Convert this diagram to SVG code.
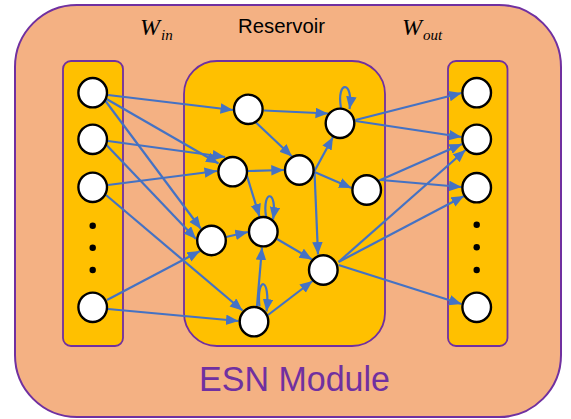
<svg xmlns="http://www.w3.org/2000/svg" width="571" height="419" viewBox="0 0 571 419">
  <style>
    .module { fill: #F4B183; stroke: #7030A0; stroke-width: 2; }
    .panel { fill: #FFC000; stroke: #7030A0; stroke-width: 1.8; }
    .node { fill: #FFFFFF; stroke: #000000; stroke-width: 2.4; }
    .dot { fill: #000000; }
    .edge { fill: none; stroke: #4472C4; stroke-width: 2.2; marker-end: url(#arrow); }
    .label { font-family: "Liberation Sans", Arial, sans-serif; fill: #000000; }
    .math { font-family: "Liberation Serif", "Times New Roman", serif; font-style: italic; font-weight: normal; fill: #000000; }
    .title { font-family: "Liberation Sans", Arial, sans-serif; fill: #7030A0; }
  </style>
  <defs>
    <marker id="arrow" markerUnits="userSpaceOnUse" markerWidth="14" markerHeight="12" refX="12.5" refY="5.25" orient="auto">
      <path d="M0,0 L12.5,5.25 L0,10.5 z" fill="#4472C4"/>
    </marker>
  </defs>

  <!-- module frame and layer panels -->
  <rect class="module" x="15" y="5" width="546" height="412" rx="62" ry="62"/>
  <rect class="panel" x="63" y="61" width="60" height="285" rx="8" ry="8"/>
  <rect class="panel" x="184" y="61" width="201" height="285" rx="33" ry="33"/>
  <rect class="panel" x="448" y="61" width="59.5" height="285" rx="8" ry="8"/>

  <!-- headings -->
  <text class="math" x="140" y="35" font-size="24">W</text>
  <text class="math" x="161" y="39.5" font-size="15">in</text>
  <text class="label" x="238" y="32.5" font-size="19.5" textLength="87" lengthAdjust="spacingAndGlyphs">Reservoir</text>
  <text class="math" x="402" y="35" font-size="24">W</text>
  <text class="math" x="423" y="39.5" font-size="15">out</text>
  <text class="title" x="199" y="391" font-size="35" textLength="191" lengthAdjust="spacingAndGlyphs">ESN Module</text>

  <!-- connections -->
  <g id="connectors">
    <!-- input weights -->
    <path class="edge" d="M108,95 L233,110"/>
    <path class="edge" d="M106.5,99 L218.5,163.5"/>
    <path class="edge" d="M105.5,101 L201,229"/>
    <path class="edge" d="M108,141 L225,157"/>
    <path class="edge" d="M106.5,145 L196,239"/>
    <path class="edge" d="M108,185 L217,171"/>
    <path class="edge" d="M106,195 L242.5,310.5"/>
    <path class="edge" d="M107,300 L200,251"/>
    <path class="edge" d="M108,309 L238.5,321"/>
    <!-- reservoir -->
    <path class="edge" d="M264,110.5 L328,113.5"/>
    <path class="edge" d="M256,122.5 L292,156.5"/>
    <path class="edge" d="M248,171 L283.8,170"/>
    <path class="edge" d="M247,176 L259.5,216.5"/>
    <path class="edge" d="M314.5,171 L333,137"/>
    <path class="edge" d="M314.5,172 L351.5,188"/>
    <path class="edge" d="M314.5,172 L318,254.5"/>
    <path class="edge" d="M226,237 L247.8,232"/>
    <path class="edge" d="M277,239 L312,259.5"/>
    <path class="edge" d="M257,306 L262,247.5"/>
    <path class="edge" d="M268,315 L312.5,281"/>
    <!-- self loops -->
    <path class="edge" d="M341,108 C336,80 354,80 349.5,109"/>
    <path class="edge" d="M266,216.5 C262,189 278,189 273,219.5"/>
    <path class="edge" d="M259.5,306.5 C256,276 271,276 266.5,311.5"/>
    <!-- output weights -->
    <path class="edge" d="M355.5,120 L461.5,93"/>
    <path class="edge" d="M355.5,121 L461.5,137"/>
    <path class="edge" d="M378,181 L462,144"/>
    <path class="edge" d="M381,180 L461.5,187"/>
    <path class="edge" d="M338.5,262 L465.5,150"/>
    <path class="edge" d="M338.5,262 L464,196"/>
    <path class="edge" d="M338.5,265 L461.5,304"/>
  </g>

  <!-- input layer -->
  <g id="in1"><ellipse class="node" cx="92.7" cy="92.7" rx="14.3" ry="14.7"/></g>
  <g id="in2"><ellipse class="node" cx="92.7" cy="139.3" rx="14.3" ry="14.7"/></g>
  <g id="in3"><ellipse class="node" cx="92.7" cy="187.3" rx="14.3" ry="14.7"/></g>
  <g id="in-dots">
    <circle class="dot" cx="92.7" cy="225.7" r="3.2"/>
    <circle class="dot" cx="92.7" cy="247.7" r="3.2"/>
    <circle class="dot" cx="92.7" cy="270" r="3.2"/>
  </g>
  <g id="in4"><ellipse class="node" cx="92.7" cy="307.3" rx="14.3" ry="14.7"/></g>

  <!-- reservoir units -->
  <g id="r1"><ellipse class="node" cx="248.3" cy="109.3" rx="14.3" ry="14.7"/></g>
  <g id="r2"><ellipse class="node" cx="340" cy="123.3" rx="14.3" ry="14.7"/></g>
  <g id="r3"><ellipse class="node" cx="232.7" cy="171.7" rx="14.3" ry="14.7"/></g>
  <g id="r4"><ellipse class="node" cx="299.3" cy="170" rx="14.3" ry="14.7"/></g>
  <g id="r5"><ellipse class="node" cx="366.7" cy="190" rx="14.3" ry="14.7"/></g>
  <g id="r6"><ellipse class="node" cx="211.5" cy="240.5" rx="14.3" ry="14.7"/></g>
  <g id="r7"><ellipse class="node" cx="263.3" cy="231.7" rx="14.3" ry="14.7"/></g>
  <g id="r8"><ellipse class="node" cx="323.3" cy="270" rx="14.3" ry="14.7"/></g>
  <g id="r9"><ellipse class="node" cx="254" cy="321.7" rx="14.3" ry="14.7"/></g>

  <!-- output layer -->
  <g id="out1"><ellipse class="node" cx="476.7" cy="92.7" rx="14.3" ry="14.7"/></g>
  <g id="out2"><ellipse class="node" cx="476.7" cy="139.3" rx="14.3" ry="14.7"/></g>
  <g id="out3"><ellipse class="node" cx="476.7" cy="187.7" rx="14.3" ry="14.7"/></g>
  <g id="out-dots">
    <circle class="dot" cx="476.7" cy="224.7" r="3.2"/>
    <circle class="dot" cx="476.7" cy="247.3" r="3.2"/>
    <circle class="dot" cx="476.7" cy="270" r="3.2"/>
  </g>
  <g id="out4"><ellipse class="node" cx="476.7" cy="307.3" rx="14.3" ry="14.7"/></g>
</svg>
